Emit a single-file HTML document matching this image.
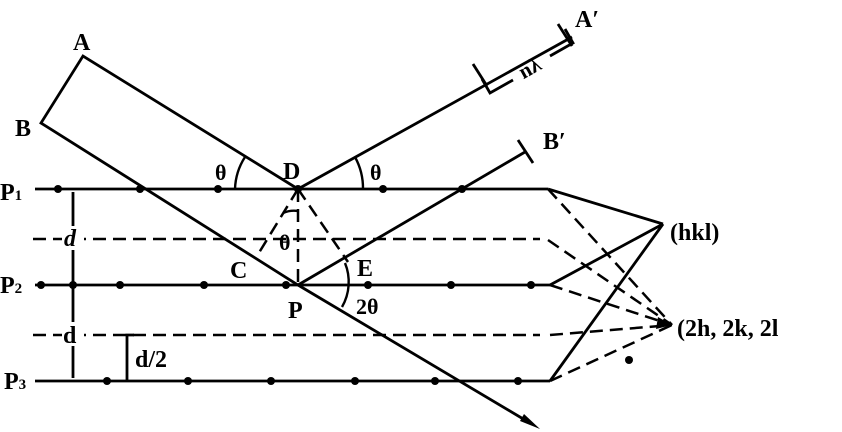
<!DOCTYPE html>
<html><head><meta charset="utf-8"><style>
body{margin:0;background:#fff}
svg{display:block}
text{font-family:"Liberation Serif",serif;fill:#000;font-weight:bold}
</style></head><body>
<svg width="842" height="432" viewBox="0 0 842 432" xmlns="http://www.w3.org/2000/svg">
<g stroke="#000" stroke-width="2.8" fill="none">
<polyline points="298,189 83,56 41,123 298,285 530,423"/>
<line x1="298" y1="189" x2="572" y2="37"/>
<line x1="298" y1="285" x2="525" y2="152"/>
<line x1="473" y1="64" x2="487" y2="86"/>
<line x1="558" y1="24" x2="572" y2="46"/>
<line x1="518" y1="140" x2="533" y2="163"/>
<polyline points="482,79 490,93 513,80"/>
<polyline points="550,56 573,43 565,29"/>
<line x1="35" y1="189" x2="548" y2="189"/>
<line x1="35" y1="285" x2="550" y2="285"/>
<line x1="35" y1="381" x2="550" y2="381"/>
<line x1="548" y1="189" x2="663" y2="224"/>
<line x1="550" y1="285" x2="663" y2="224"/>
<line x1="550" y1="381" x2="663" y2="224"/>
<line x1="73" y1="192" x2="73" y2="378"/>
<polyline points="127,381 127,335 134,335"/>
</g>
<g stroke="#000" stroke-width="2.5" fill="none" stroke-dasharray="13,7">
<line x1="33" y1="239" x2="540" y2="239"/>
<line x1="33" y1="335" x2="540" y2="335"/>
<line x1="548" y1="189" x2="672" y2="325"/>
<line x1="548" y1="240" x2="672" y2="325"/>
<line x1="550" y1="285" x2="672" y2="325"/>
<line x1="550" y1="335" x2="672" y2="325"/>
<line x1="550" y1="381" x2="672" y2="325"/>
<line x1="298" y1="189" x2="298" y2="285"/>
<line x1="298" y1="189" x2="257" y2="256"/>
<line x1="298" y1="189" x2="348" y2="262"/>
</g>
<g stroke="#000" stroke-width="2.4" fill="none">
<path d="M235,189 A63,63 0 0 1 245,157"/>
<path d="M363,189 A65,65 0 0 0 355,157"/>
<path d="M283,213 A28,28 0 0 1 298,211"/>
<path d="M345,263 A50,50 0 0 1 342,307"/>
</g>
<rect x="62" y="226" width="22" height="24" fill="#fff"/>
<rect x="62" y="322" width="22" height="24" fill="#fff"/>
<g fill="#000">
<polygon points="540,429 520,421 524,414"/>
<polygon points="672,325 658,317 656,329"/>
<circle cx="58" cy="189" r="4"/><circle cx="140" cy="189" r="4"/><circle cx="218" cy="189" r="4"/><circle cx="298" cy="189" r="4"/><circle cx="383" cy="189" r="4"/><circle cx="462" cy="189" r="4"/>
<circle cx="41" cy="285" r="4"/><circle cx="73" cy="285" r="4"/><circle cx="120" cy="285" r="4"/><circle cx="204" cy="285" r="4"/><circle cx="286" cy="285" r="4"/><circle cx="368" cy="285" r="4"/><circle cx="451" cy="285" r="4"/><circle cx="531" cy="285" r="4"/>
<circle cx="107" cy="381" r="4"/><circle cx="188" cy="381" r="4"/><circle cx="271" cy="381" r="4"/><circle cx="355" cy="381" r="4"/><circle cx="435" cy="381" r="4"/><circle cx="518" cy="381" r="4"/>
<circle cx="629" cy="360" r="4"/>
</g>
<g font-size="24">
<text x="73" y="50">A</text>
<text x="15" y="136">B</text>
<text x="575" y="27">A′</text>
<text x="543" y="149">B′</text>
<text x="283" y="179">D</text>
<text x="230" y="278">C</text>
<text x="357" y="276">E</text>
<text x="288" y="318">P</text>
<text x="215" y="180" font-size="22">θ</text>
<text x="370" y="180" font-size="22">θ</text>
<text x="279" y="250" font-size="22">θ</text>
<text x="356" y="314" font-size="22">2θ</text>
<text x="0" y="200">P<tspan font-size="15">1</tspan></text>
<text x="0" y="293">P<tspan font-size="15">2</tspan></text>
<text x="4" y="389">P<tspan font-size="15">3</tspan></text>
<text x="64" y="246" font-style="italic">d</text>
<text x="63" y="343">d</text>
<text x="135" y="367">d/2</text>
<text x="670" y="240">(hkl)</text>
<text x="677" y="336">(2h, 2k, 2l</text>
<text font-size="21" text-anchor="middle" transform="translate(533,74) rotate(-29)">nλ</text>
</g>
</svg>
</body></html>
